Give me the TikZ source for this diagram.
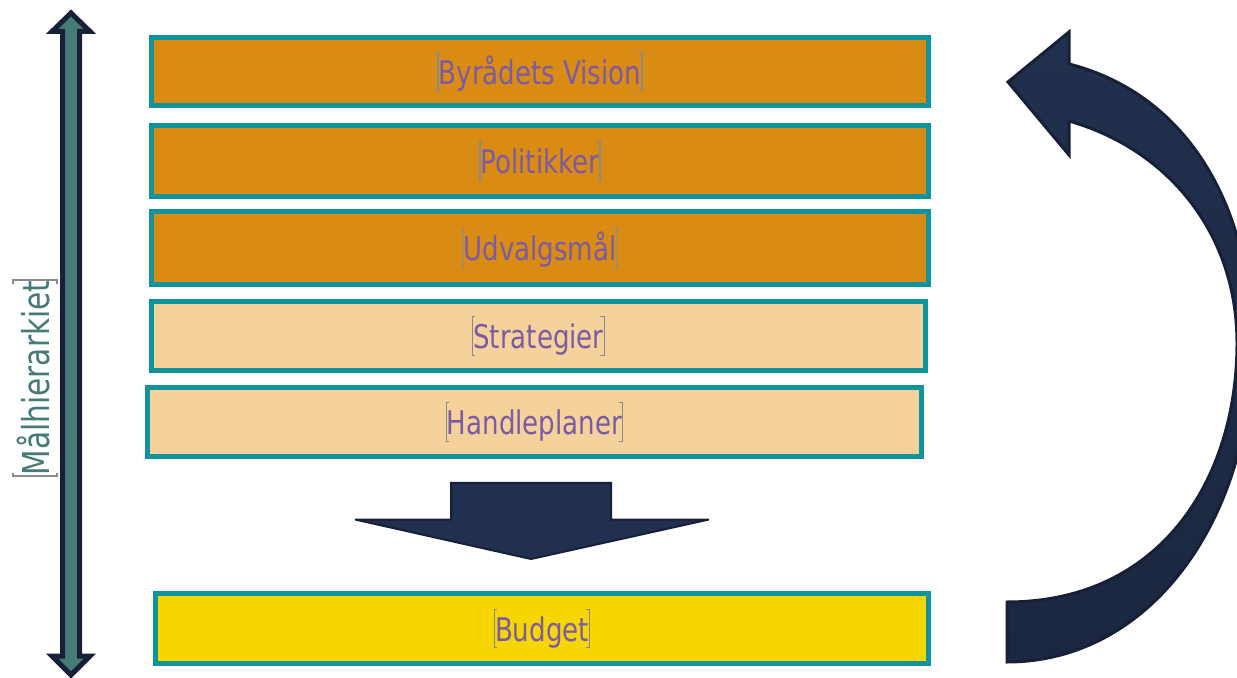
\documentclass[tikz,border=0pt]{standalone}
\usepackage{fontspec}
\setmainfont{DejaVu Sans}[FakeStretch=0.8]
\definecolor{darkorange}{HTML}{D98B13}
\definecolor{lightorange}{HTML}{F5D19C}
\definecolor{budgetyellow}{HTML}{F6D600}
\definecolor{boxteal}{HTML}{0E949A}
\definecolor{textpurple}{HTML}{7A5BA4}
\definecolor{brgray}{HTML}{8A8A8A}
\definecolor{navy}{HTML}{21304E}
\definecolor{navydark}{HTML}{1B2740}
\definecolor{navyline}{HTML}{172036}
\definecolor{hiteal}{HTML}{467A77}
% thin gray placeholder brackets round a text
\newcommand{\lbrk}{\textcolor{brgray}{\rlap{\rule[-0.22em]{0.1em}{0.04em}}\rlap{\rule[0.96em]{0.1em}{0.04em}}\rule[-0.22em]{0.04em}{1.22em}}}
\newcommand{\rbrk}{\textcolor{brgray}{\llap{\rule[-0.22em]{0.1em}{0.04em}}\llap{\rule[0.96em]{0.1em}{0.04em}}\rule[-0.22em]{0.04em}{1.22em}}}
\newcommand{\brk}[1]{\lbrk#1\rbrk}
\begin{document}
\begin{tikzpicture}[x=0.5pt,y=-0.5pt,
    level/.style={draw=boxteal,line width=2.5pt,inner sep=0pt,
        text=textpurple,font=\fontsize{16.3}{18}\selectfont,
        minimum width=388.5pt,minimum height=35pt},
    top/.style={level,fill=darkorange},
    low/.style={level,fill=lightorange},
    bigarrow/.style={draw=navyline,line join=miter,miter limit=4}]
\useasboundingbox (0,0) rectangle (1237,678);
\clip (0,0) rectangle (1237,678);
% the levels
\node[top,minimum height=34pt] (vision) at (540,71.5) {\brk{Byrådets Vision}};
\node[top,minimum height=35.5pt] (politik) at (540,161) {\brk{Politikker}};
\node[top,minimum height=36.5pt] (udvalg) at (540,248) {\brk{Udvalgsmål}};
\node[low,minimum width=387pt,minimum height=34.5pt] (strategi) at (538.5,336) {\brk{Strategier}};
\node[low,minimum width=387pt,minimum height=34.5pt] (handle) at (534.5,422) {\brk{Handleplaner}};
\node[level,fill=budgetyellow,minimum width=386.5pt] (budget) at (542,628.5) {\brk{Budget}};
% hierarchy arrow and label
\draw[bigarrow,fill=hiteal,line width=2.5pt] (71,13) -- (90,31.5) -- (79.5,31.5) -- (79.5,656)
    -- (90,656) -- (71,675) -- (52,656) -- (62.5,656) -- (62.5,31.5) -- (52,31.5) -- cycle;
\node[rotate=90,text=hiteal,font=\fontsize{18.5}{20}\selectfont,inner sep=0pt] (maal) at (35,378) {\brk{Målhierarkiet}};
% down arrow
\draw[bigarrow,fill=navy,line width=1pt] (451,483) -- (611,483) -- (611,519.5) -- (709,519.5)
    -- (531,559) -- (355,519.5) -- (451,519.5) -- cycle;
% curved arrow back up
\draw[bigarrow,top color=navy,bottom color=navydark,line width=1.5pt]
    (1007,662) .. controls (1150,662) and (1252,520) .. (1252,345)
    .. controls (1252,210) and (1190,95) .. (1069,64)
    -- (1069,32) -- (1008,82) -- (1069,155) -- (1069,121)
    .. controls (1170,150) and (1237,235) .. (1237,343)
    .. controls (1237,480) and (1160,602) .. (1007,602) -- cycle;
\end{tikzpicture}
\end{document}
